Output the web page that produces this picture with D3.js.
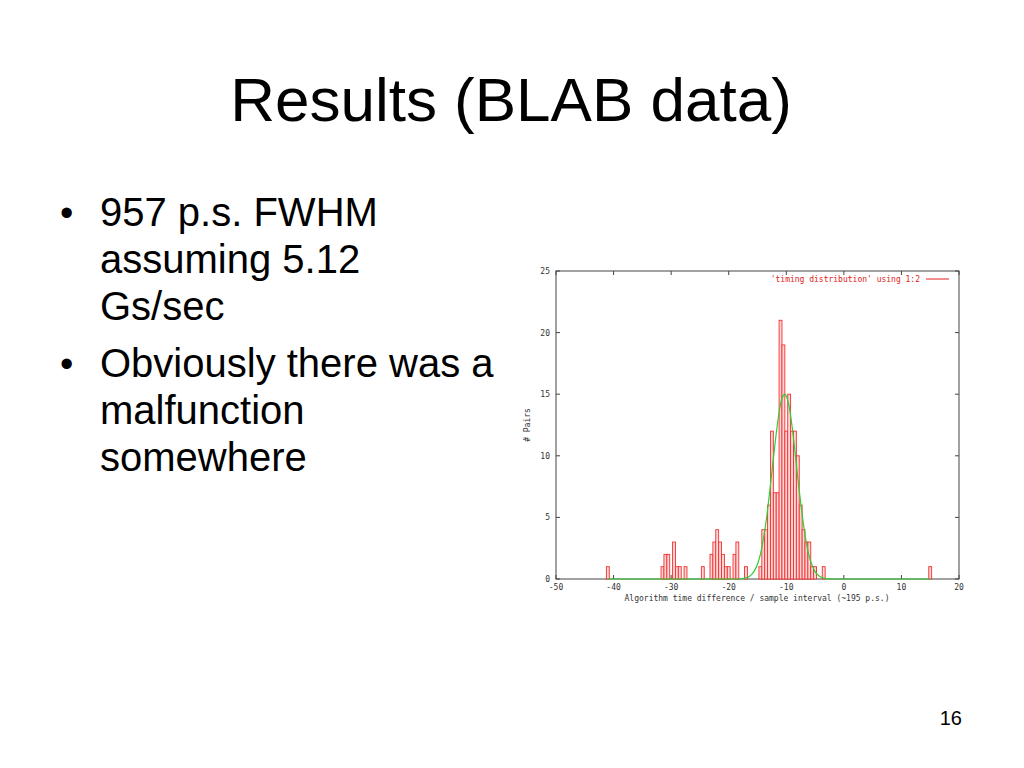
<!DOCTYPE html>
<html><head><meta charset="utf-8">
<script src="https://cdn.jsdelivr.net/npm/d3@7"></script>
<style>body{margin:0;background:#fff}</style>
</head><body>
<svg id="c" width="1024" height="768"></svg>
<script>
// ---- data ----
const binCenters = [-41, -31.5, -31, -30.5, -29.5, -29, -28.5, -27.5,
  -24.5, -23, -22.5, -22, -21.5, -21, -20.5, -20, -19, -18.5, -17,
  -14.5, -14, -13.5, -13, -12.5, -12, -11.5, -11, -10.5, -10, -9.5, -9, -8.5, -8, -7.5, -7, -6.5, -6, -5.5, -5,
  -3.5, 15];
const binCounts = [1, 1, 2, 2, 3, 1, 1, 1,
  1, 2, 3, 4, 3, 2, 1, 1, 2, 3, 1,
  1, 4, 4, 6, 12, 7, 7, 21, 19, 12, 15, 12, 12, 10, 6, 4, 3, 3, 1, 1,
  1, 1];
const binWidth = 0.5;
const fitX = [-41, -18, -17, -16.5, -16, -15.5, -15, -14.5, -14, -13.5, -13, -12.5, -12, -11.5, -11, -10.5, -10.3, -10, -9.5, -9, -8.5, -8, -7.5, -7, -6.5, -6, -5.5, -5, -4.5, -4, -3, -2, 15];
const fitY = [0, 0, 0.09, 0.19, 0.38, 0.7, 1.2, 2.0, 3.2, 4.7, 6.6, 8.7, 10.8, 12.7, 14.2, 14.9, 15, 14.85, 14.0, 12.4, 10.4, 8.2, 6.2, 4.4, 2.9, 1.8, 1.1, 0.6, 0.33, 0.17, 0.03, 0, 0];
const xTicks = [-50, -40, -30, -20, -10, 0, 10, 20];
const yTicks = [0, 5, 10, 15, 20, 25];
const titleText = "Results (BLAB data)";
const bullets = [["957 p.s. FWHM", "assuming 5.12", "Gs/sec"], ["Obviously there was a", "malfunction", "somewhere"]];
const xLabel = "Algorithm time difference / sample interval (~195 p.s.)";
const yLabel = "# Pairs";
const legendText = "'timing distribution' using 1:2";
const pageNum = "16";

const svg = d3.select("#c");
const L = 556, R = 959, T = 271, B = 579;
const x = d3.scaleLinear().domain([-50, 20]).range([L, R]);
const y = d3.scaleLinear().domain([0, 25]).range([B, T]);

// slide text
svg.append("text").attr("x", 511).attr("y", 121).attr("text-anchor", "middle")
  .attr("font-family", "Liberation Sans, Arial, sans-serif").attr("font-size", 62).attr("fill", "#000").text(titleText);
const baselines = [[226, 273, 320], [377, 424, 471]];
bullets.forEach((grp, gi) => {
  svg.append("text").attr("x", 60).attr("y", baselines[gi][0])
    .attr("font-family", "Liberation Sans, Arial, sans-serif").attr("font-size", 38).text("\u2022");
  grp.forEach((t, li) => {
    svg.append("text").attr("x", 100).attr("y", baselines[gi][li])
      .attr("font-family", "Liberation Sans, Arial, sans-serif").attr("font-size", 40).attr("fill", "#000").text(t);
  });
});
svg.append("text").attr("x", 962).attr("y", 725).attr("text-anchor", "end")
  .attr("font-family", "Liberation Sans, Arial, sans-serif").attr("font-size", 20).text(pageNum);

const mono = "DejaVu Sans Mono, monospace";
const g = svg.append("g");

// frame and ticks (drawn first, data on top)
g.append("rect").attr("x", L).attr("y", T).attr("width", R - L).attr("height", B - T)
  .attr("fill", "none").attr("stroke", "#444").attr("stroke-width", 1);
const tl = 4;
xTicks.forEach(v => {
  g.append("line").attr("x1", x(v)).attr("x2", x(v)).attr("y1", B).attr("y2", B - tl).attr("stroke", "#444");
  g.append("line").attr("x1", x(v)).attr("x2", x(v)).attr("y1", T).attr("y2", T + tl).attr("stroke", "#444");
  g.append("text").attr("x", x(v)).attr("y", 590).attr("text-anchor", "middle")
    .attr("font-family", mono).attr("font-size", 8).attr("fill", "#333").text(v);
});
yTicks.forEach(v => {
  g.append("line").attr("x1", L).attr("x2", L + tl).attr("y1", y(v)).attr("y2", y(v)).attr("stroke", "#444");
  g.append("line").attr("x1", R).attr("x2", R - tl).attr("y1", y(v)).attr("y2", y(v)).attr("stroke", "#444");
  g.append("text").attr("x", 550).attr("y", y(v) + 3).attr("text-anchor", "end")
    .attr("font-family", mono).attr("font-size", 8).attr("fill", "#333").text(v);
});

// bars
g.selectAll("rect.bar").data(binCenters.map((c, i) => ({c, n: binCounts[i]}))).enter()
  .append("rect").attr("class", "bar")
  .attr("x", d => x(d.c - binWidth / 2)).attr("width", d => x(d.c + binWidth / 2) - x(d.c - binWidth / 2))
  .attr("y", d => y(d.n)).attr("height", d => y(0) - y(d.n))
  .attr("fill", "#ffd6d6").attr("stroke", "#f03030").attr("stroke-width", 0.9);

// fit curve
const line = d3.line().x((d, i) => x(fitX[i])).y((d, i) => y(fitY[i])).curve(d3.curveMonotoneX);
g.append("path").attr("d", line(fitX)).attr("fill", "none").attr("stroke", "#33cc33").attr("stroke-width", 1.2);

g.append("text").attr("x", 757).attr("y", 601).attr("text-anchor", "middle")
  .attr("font-family", mono).attr("font-size", 8).attr("fill", "#333").text(xLabel);
g.append("text").attr("transform", "translate(530,425) rotate(-90)").attr("text-anchor", "middle")
  .attr("font-family", mono).attr("font-size", 8).attr("fill", "#333").text(yLabel);
// legend
g.append("text").attr("x", 920).attr("y", 282).attr("text-anchor", "end")
  .attr("font-family", mono).attr("font-size", 8).attr("fill", "#e02020").text(legendText);
g.append("line").attr("x1", 926).attr("x2", 949).attr("y1", 279).attr("y2", 279).attr("stroke", "#e02020");
</script>
</body></html>
